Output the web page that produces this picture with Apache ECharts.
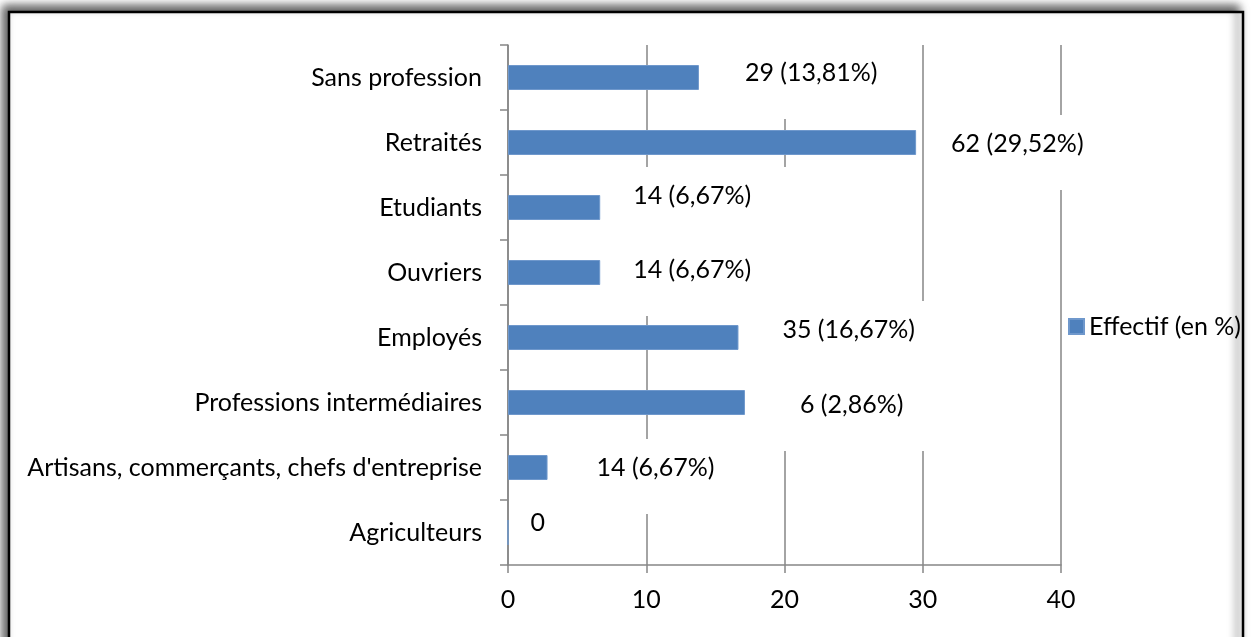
<!DOCTYPE html>
<html>
<head>
<meta charset="utf-8">
<script src="https://cdn.jsdelivr.net/npm/echarts@6/dist/echarts.min.js"></script>
<style>
html,body{margin:0;padding:0;background:#fff;}
#chart{width:1252px;height:637px;}
</style>
</head>
<body>
<div id="chart"></div>
<script>
// Data (top to bottom)
const categories = [
  "Sans profession",
  "Retraités",
  "Etudiants",
  "Ouvriers",
  "Employés",
  "Professions intermédiaires",
  "Artisans, commerçants, chefs d'entreprise",
  "Agriculteurs"
];
const values = [13.81, 29.52, 6.67, 6.67, 16.67, 17.14, 2.86, 0];
const labelTexts = [
  "29 (13,81%)",
  "62 (29,52%)",
  "14 (6,67%)",
  "14 (6,67%)",
  "35 (16,67%)",
  "6 (2,86%)",
  "14 (6,67%)",
  "0"
];
const xTicks = [0, 10, 20, 30, 40];
const seriesName = "Effectif (en %)";

// layout of the (manually moved) data labels
const labelShift = [[26, 4], [15, 10], [13, -3], [13, 6], [24, 1], [35, 11], [29, 9], [18, -10]];

const FONT = "Lato";
const FS = 25;
const GREY = "#868686";

const chart = echarts.init(document.getElementById('chart'), null, {renderer: 'canvas'});

const data = values.map((v, i) => {
  const lab = {
    offset: labelShift[i],
    formatter: () => v === 0 ? '{t|' + labelTexts[i] + '}' : '{t|' + labelTexts[i] + '}\n{s| }'
  };
  if (v === 0) lab.padding = [4, 4, 4, 4];
  return {value: v, label: lab};
});

chart.setOption({
  animation: false,
  backgroundColor: '#fff',
  textStyle: {fontFamily: FONT},
  graphic: [{
    type: 'rect',
    z: -10,
    silent: true,
    shape: {x: 9, y: 12, width: 1234, height: 660},
    style: {
      fill: '#fff',
      stroke: '#000',
      lineWidth: 2.5,
      shadowColor: 'rgba(0,0,0,0.65)',
      shadowBlur: 9,
      shadowOffsetX: -5,
      shadowOffsetY: -5
    }
  }],
  grid: {left: 508, right: 191, top: 45, bottom: 72, containLabel: false},
  legend: {
    show: true,
    left: 1063,
    top: 309,
    orient: 'vertical',
    itemWidth: 15,
    itemHeight: 15,
    itemGap: 6,
    icon: 'rect',
    textStyle: {fontFamily: FONT, fontSize: FS, color: '#000'},
    data: [seriesName]
  },
  xAxis: {
    type: 'value',
    min: xTicks[0],
    max: xTicks[xTicks.length - 1],
    interval: 10,
    axisLine: {show: true, lineStyle: {color: GREY, width: 1.5}},
    axisTick: {show: true, length: 8, lineStyle: {color: GREY, width: 1.5}},
    axisLabel: {fontFamily: FONT, fontSize: FS, color: '#000', margin: 22},
    splitLine: {show: true, lineStyle: {color: GREY, width: 1.5}}
  },
  yAxis: {
    type: 'category',
    inverse: true,
    data: categories,
    axisLine: {show: true, lineStyle: {color: GREY, width: 1.5}},
    axisTick: {show: true, length: 8, alignWithLabel: false, lineStyle: {color: GREY, width: 1.5}},
    axisLabel: {fontFamily: FONT, fontSize: FS, color: '#000', margin: 26},
    splitLine: {show: false}
  },
  series: [{
    name: seriesName,
    type: 'bar',
    data: data,
    barWidth: 25,
    itemStyle: {color: '#4F81BD', borderColor: '#6f98cc', borderWidth: 1},
    label: {
      show: true,
      position: 'right',
      distance: 0,
      fontFamily: FONT,
      fontSize: FS,
      color: '#000',
      backgroundColor: '#fff',
      padding: [17, 40, 17, 20],
      rich: {
        t: {fontFamily: FONT, fontSize: FS, lineHeight: 24, color: '#000'},
        s: {fontSize: 1, lineHeight: 17}
      }
    }
  }]
});
</script>
</body>
</html>
